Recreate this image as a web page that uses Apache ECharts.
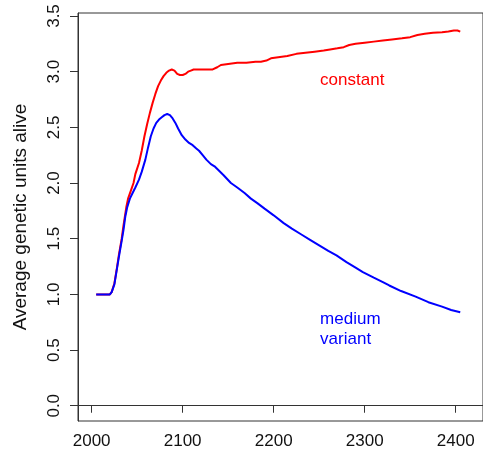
<!DOCTYPE html>
<html>
<head>
<meta charset="utf-8">
<script src="https://cdn.jsdelivr.net/npm/echarts@6/dist/echarts.min.js"></script>
<style>
html,body{margin:0;padding:0;background:#fff;}
#chart{width:483px;height:454px;}
</style>
</head>
<body>
<div id="chart"></div>
<script>
var xTicks = [2000, 2100, 2200, 2300, 2400];
var yTicks = [0, 0.5, 1, 1.5, 2, 2.5, 3, 3.5];

var constantYears = [2005,2010,2015,2020,2022,2025,2028,2030,2033,2035,2038,2040,2043,2046,2048,2052,2055,2058,2061,2064,2067,2070,2073,2076,2079,2082,2085,2088,2091,2094,2097,2100,2103,2106,2109,2112,2117,2122,2127,2133,2138,2142,2150,2160,2170,2180,2186,2192,2197,2205,2215,2225,2235,2245,2255,2262,2270,2277,2283,2290,2300,2310,2320,2330,2341,2350,2358,2366,2375,2385,2392,2398,2402,2405];
var constantValues = [1.0,1.0,1.0,1.0,1.02,1.10,1.25,1.36,1.50,1.62,1.78,1.86,1.93,2.00,2.08,2.18,2.29,2.42,2.53,2.63,2.72,2.80,2.87,2.92,2.96,2.99,3.01,3.02,3.01,2.98,2.97,2.97,2.98,3.00,3.01,3.02,3.02,3.02,3.02,3.02,3.04,3.06,3.07,3.08,3.08,3.09,3.09,3.10,3.12,3.13,3.14,3.16,3.17,3.18,3.19,3.20,3.21,3.22,3.24,3.25,3.26,3.27,3.28,3.29,3.30,3.31,3.33,3.34,3.35,3.355,3.36,3.37,3.37,3.36];

var mediumYears = [2005,2010,2015,2020,2022,2025,2028,2030,2033,2035,2037,2039,2042,2045,2048,2052,2055,2059,2062,2065,2068,2071,2074,2077,2080,2083,2086,2089,2092,2095,2099,2103,2107,2111,2115,2118,2122,2126,2131,2135,2140,2145,2153,2160,2168,2175,2182,2190,2200,2211,2220,2230,2240,2250,2260,2269,2280,2290,2298,2310,2320,2327,2340,2356,2370,2385,2395,2405];
var mediumValues = [1.0,1.0,1.0,1.0,1.02,1.09,1.24,1.34,1.48,1.58,1.70,1.78,1.86,1.91,1.96,2.03,2.10,2.21,2.32,2.42,2.49,2.54,2.57,2.59,2.61,2.62,2.61,2.58,2.54,2.49,2.43,2.39,2.36,2.34,2.31,2.29,2.25,2.21,2.17,2.15,2.11,2.07,2.00,1.96,1.91,1.86,1.82,1.77,1.71,1.64,1.59,1.54,1.49,1.44,1.39,1.35,1.29,1.24,1.20,1.15,1.11,1.08,1.03,0.98,0.93,0.89,0.86,0.84];

var labelConstant = 'constant';
var labelMedium = 'medium\nvariant';

function pairs(xs, ys){ return xs.map(function(x,i){ return [x, ys[i]]; }); }

var FONT = 'Liberation Sans, Arial, sans-serif';
var chart = echarts.init(document.getElementById('chart'), null, {renderer:'canvas'});
chart.setOption({
  animation: false,
  grid: {left: 78, right: -5.5, top: 13, bottom: 33, show: true, borderColor: '#333', borderWidth: 1, backgroundColor: 'transparent'},
  xAxis: {
    type: 'value', min: 1985, max: 2430,
    splitLine: {show: false},
    axisLine: {show: true, lineStyle: {color: '#333', width: 1}},
    axisTick: {show: true, length: 7, customValues: xTicks, lineStyle: {color: '#333'}},
    axisLabel: {customValues: xTicks, margin: 12, color: '#111', fontSize: 17, fontFamily: FONT,
      formatter: function(v){ return String(v); }}
  },
  yAxis: {
    type: 'value', min: -0.137, max: 3.527,
    splitLine: {show: false},
    axisLine: {show: true, lineStyle: {color: '#333', width: 1}},
    axisTick: {show: true, length: 8, customValues: yTicks, lineStyle: {color: '#333'}},
    axisLabel: {customValues: yTicks, rotate: 90, margin: 15, color: '#111', fontSize: 17, fontFamily: FONT,
      formatter: function(v){ return v.toFixed(1); }},
    name: 'Average genetic units alive', nameLocation: 'middle', nameRotate: 90, nameGap: 48,
    nameTextStyle: {fontSize: 19, color: '#111', fontFamily: FONT}
  },
  series: [
    {type: 'line', data: pairs(constantYears, constantValues), showSymbol: false, smooth: false,
     lineStyle: {color: '#ff0000', width: 2}, itemStyle: {color: '#ff0000'},
     markPoint: {symbol: 'circle', symbolSize: 0, data: [{coord: [2251, 2.925]}],
       label: {show: true, position: 'right', distance: 0, formatter: labelConstant, color: '#ff0000', fontSize: 17, fontFamily: FONT}}},
    {type: 'line', data: pairs(mediumYears, mediumValues), showSymbol: false, smooth: false,
     lineStyle: {color: '#0000ff', width: 2}, itemStyle: {color: '#0000ff'},
     markPoint: {symbol: 'circle', symbolSize: 0, data: [{coord: [2251, 0.689]}],
       label: {show: true, position: 'right', distance: 0, formatter: labelMedium, lineHeight: 20, color: '#0000ff', fontSize: 17, fontFamily: FONT}}}
  ]
});
</script>
</body>
</html>
